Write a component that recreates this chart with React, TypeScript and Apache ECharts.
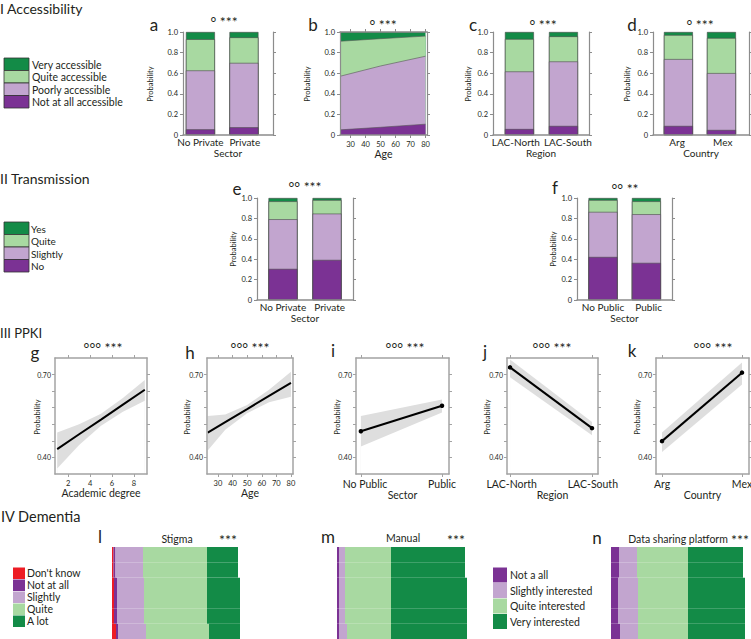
import React, { useEffect, useRef } from "react";
import * as echarts from "echarts";

const FONT = "Lato, 'Open Sans', sans-serif";
const INK = "#231f20";
const AXIS = "#8c8c8c";

const C_DARK = "#138b47";
const C_LIGHT = "#a8d9a1";
const C_LILAC = "#c2a5cf";
const C_PURPLE = "#7b3294";
const C_RED = "#ed1c24";

// ---------- I Accessibility ----------
const accessLegend = ["Very accessible", "Quite accessible", "Poorly accessible", "Not at all accessible"];
const aCats = ["No Private", "Private"];
const aNot = [0.055, 0.075];
const aPoor = [0.572, 0.625];
const aQuite = [0.303, 0.248];
const aVery = [0.07, 0.052];

const bAges = [23, 50, 80];
const bNot = [0.05, 0.075, 0.105];
const bPoor = [0.52, 0.595, 0.66];
const bQuite = [0.34, 0.265, 0.195];
const bVery = [0.09, 0.065, 0.04];
const bAgeTicks = [30, 40, 50, 60, 70, 80];

const cCats = ["LAC-North", "LAC-South"];
const cNot = [0.058, 0.088];
const cPoor = [0.559, 0.626];
const cQuite = [0.315, 0.244];
const cVery = [0.068, 0.042];

const dCats = ["Arg", "Mex"];
const dNot = [0.088, 0.049];
const dPoor = [0.649, 0.552];
const dQuite = [0.234, 0.341];
const dVery = [0.029, 0.058];

// ---------- II Transmission ----------
const transLegend = ["Yes", "Quite", "Slightly", "No"];
const eCats = ["No Private", "Private"];
const eNo = [0.305, 0.393];
const eSlightly = [0.487, 0.454];
const eQuite = [0.176, 0.133];
const eYes = [0.032, 0.02];
const fCats = ["No Public", "Public"];
const fNo = [0.422, 0.364];
const fSlightly = [0.442, 0.477];
const fQuite = [0.116, 0.127];
const fYes = [0.02, 0.032];

// ---------- III PPKI ----------
const ppkiTicks = [0.4, 0.46, 0.52, 0.58, 0.64, 0.7];
const ppkiLabels = [0.4, 0.7];
const gX = [1, 3, 5, 7, 9];
const gFit = [0.43, 0.484, 0.537, 0.591, 0.645];
const gLo = [0.36, 0.445, 0.515, 0.565, 0.605];
const gHi = [0.49, 0.52, 0.558, 0.615, 0.68];
const gTicks = [2, 4, 6, 8];
const hX = [23, 35, 50, 65, 80];
const hFit = [0.49, 0.528, 0.575, 0.623, 0.67];
const hLo = [0.425, 0.5, 0.56, 0.6, 0.62];
const hHi = [0.55, 0.555, 0.59, 0.645, 0.71];
const hTicks = [30, 40, 50, 60, 70, 80];
const iCats = ["No Public", "Public"];
const iFit = [0.495, 0.587];
const iLo = [0.44, 0.563];
const iHi = [0.55, 0.61];
const jCats = ["LAC-North", "LAC-South"];
const jFit = [0.726, 0.506];
const jLo = [0.69, 0.48];
const jHi = [0.755, 0.528];
const kCats = ["Arg", "Mex"];
const kFit = [0.459, 0.707];
const kLo = [0.42, 0.664];
const kHi = [0.49, 0.744];

// ---------- IV Dementia ----------
const rows = ["r1", "r2", "r3", "r4", "r5", "r6"];
const dementiaLegendL = ["Don't know", "Not at all", "Slightly", "Quite", "A lot"];
const lDontKnow = [1.5, 1.5, 2, 2, 2, 4];
const lNotAtAll = [2, 2, 3, 3, 3, 2];
const lSlightly = [27.5, 27.5, 27, 27, 27, 28];
const lQuite = [64, 64, 63, 63, 63, 63];
const lALot = [31, 31, 33, 33, 33, 31];
const interestLegend = ["Not a all", "Slightly interested", "Quite interested", "Very interested"];
const mNot = [2, 2, 2, 2, 2, 2];
const mSlightly = [6, 6, 6, 6, 6, 8];
const mQuite = [46, 46, 46, 46, 46, 44];
const mVery = [74, 74, 76, 76, 76, 76];
const nNot = [8, 8, 7, 7, 7, 9];
const nSlightly = [18, 18, 20, 20, 20, 18];
const nQuite = [51, 51, 50, 50, 50, 50];
const nVery = [55, 55, 57, 57, 57, 57];

type Acc = { grid: any[]; xAxis: any[]; yAxis: any[]; series: any[] };

const labelStyle = (size: number) => ({ fontSize: size, color: INK, fontFamily: FONT });

// running totals of stacked shares (bottom segment first)
function cumulate(stacks: number[][]) {
  const out: number[][] = [];
  stacks.forEach((vals, k) => out.push(vals.map((v, i) => (k === 0 ? v : out[k - 1][i] + v))));
  return out;
}

function addGrid(acc: Acc, box: number[]) {
  acc.grid.push({ left: box[0], top: box[1], width: box[2], height: box[3], containLabel: false, outerBoundsMode: "none" });
  return acc.grid.length - 1;
}

function stackYAxes(acc: Acc, gi: number) {
  const base = {
    gridIndex: gi, type: "value", min: 0, max: 1, interval: 0.2, z: 10,
    splitLine: { show: false },
    axisLine: { show: true, onZero: false, lineStyle: { color: AXIS, width: 1.2 } },
    axisTick: { show: true, length: 3, lineStyle: { color: AXIS, width: 1 } },
  };
  const yi = acc.yAxis.length;
  acc.yAxis.push({ ...base, position: "left", axisLabel: { ...labelStyle(7.5), margin: 5, formatter: (v: number) => (v === 0 ? "0" : v.toFixed(1)) } });
  acc.yAxis.push({ ...base, position: "right", axisLabel: { show: false } });
  return yi;
}

function barPanel(acc: Acc, box: number[], xmin: number, xmax: number, cats: string[], labelAt: number[], stacks: number[][], colors: string[], xName: string) {
  const gi = addGrid(acc, box);
  const xi = acc.xAxis.length;
  acc.xAxis.push({
    gridIndex: gi, type: "value", min: xmin, max: xmax, z: 10,
    name: xName, nameLocation: "middle", nameGap: 12,
    nameTextStyle: { ...labelStyle(10), verticalAlign: "top" },
    axisLine: { show: true, onZero: false, lineStyle: { color: AXIS, width: 1.5 } },
    axisTick: { show: false }, splitLine: { show: false },
    axisLabel: { ...labelStyle(10), customValues: labelAt, hideOverlap: false, margin: 2, formatter: (v: number) => (v < 0.5 ? cats[0] : cats[1]) },
  });
  const yi = stackYAxes(acc, gi);
  const cum = cumulate(stacks);
  for (let k = cum.length - 1; k >= 0; k--) {
    acc.series.push({
      type: "bar", xAxisIndex: xi, yAxisIndex: yi, barWidth: 29, barGap: "-100%",
      data: cum[k].map((v, i) => [i, v]),
      itemStyle: { color: colors[k], borderColor: "#4a4a4a", borderWidth: 0.6 }, silent: true,
    });
  }
}

function areaPanel(acc: Acc, box: number[], xmin: number, xmax: number, xs: number[], stacks: number[][], colors: string[], ticks: number[], xName: string) {
  const gi = addGrid(acc, box);
  const xi = acc.xAxis.length;
  const xBase = {
    gridIndex: gi, type: "value", min: xmin, max: xmax, z: 10, splitLine: { show: false },
    axisLine: { show: true, onZero: false, lineStyle: { color: AXIS, width: 1.5 } },
    axisTick: { show: true, length: 3, customValues: ticks, lineStyle: { color: AXIS, width: 1 } },
  };
  acc.xAxis.push({
    ...xBase, position: "bottom",
    name: xName, nameLocation: "middle", nameGap: 13,
    nameTextStyle: { ...labelStyle(10.5), verticalAlign: "top" },
    axisLabel: { ...labelStyle(7.5), customValues: ticks, margin: 5 },
  });
  acc.xAxis.push({ ...xBase, position: "top", axisLabel: { show: false } });
  const yi = stackYAxes(acc, gi);
  const cum = cumulate(stacks);
  for (let k = cum.length - 1; k >= 0; k--) {
    acc.series.push({
      type: "line", xAxisIndex: xi, yAxisIndex: yi, symbol: "none",
      data: cum[k].map((v, i) => [xs[i], v]),
      lineStyle: { color: "#555", width: 0.6 },
      areaStyle: { color: colors[k], opacity: 1, origin: "start" }, silent: true,
    });
  }
}

function ciPanel(acc: Acc, box: number[], xmin: number, xmax: number, xs: number[], fit: number[], lo: number[], hi: number[], ticks: number[], labelAt: number[], fmt: (v: number) => string, dots: boolean, xName: string) {
  const gi = addGrid(acc, box);
  const xi = acc.xAxis.length;
  const line = { show: true, onZero: false, lineStyle: { color: "#a3a3a3", width: 1.5 } };
  const tick = { show: true, length: 3, lineStyle: { color: "#a3a3a3", width: 1 } };
  const xBase = { gridIndex: gi, type: "value", min: xmin, max: xmax, z: 10, splitLine: { show: false }, axisLine: line, axisTick: { ...tick, customValues: ticks } };
  acc.xAxis.push({
    ...xBase, position: "bottom",
    name: xName, nameLocation: "middle", nameGap: 13,
    nameTextStyle: { ...labelStyle(10.5), verticalAlign: "top" },
    axisLabel: { ...labelStyle(dots ? 10.5 : 7.5), customValues: labelAt, hideOverlap: false, margin: dots ? 4 : 5, formatter: fmt },
  });
  acc.xAxis.push({ ...xBase, position: "top", axisLabel: { show: false } });
  const yi = acc.yAxis.length;
  const yBase = { gridIndex: gi, type: "value", min: 0.34, max: 0.76, z: 10, splitLine: { show: false }, axisLine: line, axisTick: { ...tick, customValues: ppkiTicks } };
  acc.yAxis.push({ ...yBase, position: "left", axisLabel: { ...labelStyle(7), customValues: ppkiLabels, margin: 4, formatter: (v: number) => v.toFixed(2) } });
  acc.yAxis.push({ ...yBase, position: "right", axisLabel: { show: false } });
  // confidence band: grey up to the upper bound, white up to the lower bound
  acc.series.push({
    type: "line", xAxisIndex: xi, yAxisIndex: yi, symbol: "none",
    data: hi.map((v, i) => [xs[i], v]), lineStyle: { opacity: 0 },
    areaStyle: { color: "#dedede", opacity: 1, origin: "start" }, silent: true,
  });
  acc.series.push({
    type: "line", xAxisIndex: xi, yAxisIndex: yi, symbol: "none",
    data: lo.map((v, i) => [xs[i], v]), lineStyle: { opacity: 0 },
    areaStyle: { color: "#ffffff", opacity: 1, origin: "start" }, silent: true,
  });
  acc.series.push({
    type: "line", xAxisIndex: xi, yAxisIndex: yi,
    symbol: dots ? "circle" : "none", symbolSize: 4.5, showSymbol: dots,
    data: fit.map((v, i) => [xs[i], v]),
    lineStyle: { color: "#000", width: 2 }, itemStyle: { color: "#000" }, silent: true,
  });
}

function rowPanel(acc: Acc, box: number[], max: number, stacks: number[][], colors: string[]) {
  const gi = addGrid(acc, box);
  const xi = acc.xAxis.length;
  acc.xAxis.push({ gridIndex: gi, type: "value", min: 0, max, show: false, splitLine: { show: false } });
  const yi = acc.yAxis.length;
  acc.yAxis.push({ gridIndex: gi, type: "category", data: rows, inverse: true, show: false });
  stacks.forEach((vals, k) =>
    acc.series.push({
      type: "bar", xAxisIndex: xi, yAxisIndex: yi, stack: "r" + gi, barCategoryGap: "0%",
      data: vals, itemStyle: { color: colors[k] }, silent: true,
    })
  );
}

function txt(x: number, y: number, text: string, size: number, align = "left", rotation = 0) {
  return {
    type: "text", x, y, rotation, silent: true,
    style: { text, fill: INK, fontSize: size, fontFamily: FONT, align, verticalAlign: "middle", textAlign: align, textVerticalAlign: "middle" },
  };
}
function box(x: number, y: number, w: number, h: number, fill: string, stroke?: string) {
  return { type: "rect", silent: true, shape: { x, y, width: w, height: h }, style: { fill, stroke: stroke ?? "none", lineWidth: stroke ? 0.8 : 0 } };
}

function buildOption() {
  const acc: Acc = { grid: [], xAxis: [], yAxis: [], series: [] };
  const accessColors = [C_PURPLE, C_LILAC, C_LIGHT, C_DARK];

  barPanel(acc, [183, 32, 90, 103], -0.4, 1.667, aCats, [0, 1.02], [aNot, aPoor, aQuite, aVery], accessColors, "Sector");
  areaPanel(acc, [340, 32, 87, 103], 23, 81, bAges, [bNot, bPoor, bQuite, bVery], accessColors, bAgeTicks, "Age");
  barPanel(acc, [493, 32, 96, 103], -0.6, 1.58, cCats, [-0.08, 1.1], [cNot, cPoor, cQuite, cVery], accessColors, "Region");
  barPanel(acc, [653, 32, 96, 103], -0.59, 1.64, dCats, [-0.03, 1.03], [dNot, dPoor, dQuite, dVery], accessColors, "Country");

  barPanel(acc, [257, 198, 96, 102], -0.59, 1.59, eCats, [0, 1.06], [eNo, eSlightly, eQuite, eYes], accessColors, "Sector");
  barPanel(acc, [577, 198, 95, 102], -0.6, 1.59, fCats, [0, 1.05], [fNo, fSlightly, fQuite, fYes], accessColors, "Sector");

  ciPanel(acc, [55, 358, 92, 116], 0.8, 9.2, gX, gFit, gLo, gHi, gTicks, gTicks, (v) => String(v), false, "Academic degree");
  ciPanel(acc, [207, 358, 86, 116], 22.5, 81.4, hX, hFit, hLo, hHi, hTicks, hTicks, (v) => String(v), false, "Age");
  ciPanel(acc, [356, 358, 93, 116], -0.06, 1.086, [0, 1], iFit, iLo, iHi, [0, 1], [0.05, 1], (v) => (v < 0.5 ? iCats[0] : iCats[1]), true, "Sector");
  ciPanel(acc, [507, 358, 91, 116], -0.037, 1.073, [0, 1], jFit, jLo, jHi, [0, 1], [0.02, 1.01], (v) => (v < 0.5 ? jCats[0] : jCats[1]), true, "Region");
  ciPanel(acc, [656, 358, 93, 116], -0.075, 1.0875, [0, 1], kFit, kLo, kHi, [0, 1], [0, 1], (v) => (v < 0.5 ? kCats[0] : kCats[1]), true, "Country");

  rowPanel(acc, [112, 547, 150, 92], 150, [lDontKnow, lNotAtAll, lSlightly, lQuite, lALot], [C_RED, C_PURPLE, C_LILAC, C_LIGHT, C_DARK]);
  rowPanel(acc, [337, 547, 150, 92], 150, [mNot, mSlightly, mQuite, mVery], [C_PURPLE, C_LILAC, C_LIGHT, C_DARK]);
  rowPanel(acc, [611, 547, 150, 92], 150, [nNot, nSlightly, nQuite, nVery], [C_PURPLE, C_LILAC, C_LIGHT, C_DARK]);

  const g: any[] = [];
  // section titles
  g.push(txt(0, 8, "I Accessibility", 14));
  g.push(txt(0, 178, "II Transmission", 14));
  g.push(txt(0, 333, "III PPKI", 13));
  g.push(txt(1, 516, "IV Dementia", 14.5));

  // legend I
  const legI = [C_DARK, C_LIGHT, C_LILAC, C_PURPLE];
  accessLegend.forEach((t, k) => {
    const y = 58 + k * 12.5;
    g.push(box(4, y, 25, 12.5, legI[k], "#333"));
    g.push(txt(32, y + 6.5, t, 10.5));
  });
  // legend II
  transLegend.forEach((t, k) => {
    const y = 222 + k * 12.5;
    g.push(box(4, y, 25, 12.5, legI[k], "#333"));
    g.push(txt(31, y + 6.5, t, 10));
  });
  // legend IV left
  const legL = [C_RED, C_PURPLE, C_LILAC, C_LIGHT, C_DARK];
  dementiaLegendL.forEach((t, k) => {
    const c = 573 + k * 12;
    g.push(box(13, c - 5.5, 12, 11.5, legL[k]));
    g.push(txt(27, c, t, 10.5));
  });
  // legend IV right
  const legR = [C_PURPLE, C_LILAC, C_LIGHT, C_DARK];
  interestLegend.forEach((t, k) => {
    const c = 575 + k * 15.5;
    g.push(box(493, c - 7.5, 14, 15, legR[k]));
    g.push(txt(510, c, t, 10.5));
  });

  // panel letters
  const letters: [string, number, number][] = [
    ["a", 154, 24], ["b", 313, 24], ["c", 473, 24], ["d", 632, 24],
    ["e", 237, 188], ["f", 555, 187],
    ["g", 35, 352], ["h", 190, 352], ["i", 333, 350], ["j", 485, 351], ["k", 632, 350],
    ["l", 100, 536], ["m", 328, 536], ["n", 597, 537],
  ];
  letters.forEach(([t, x, y]) => g.push(txt(x, y, t, 17, "center")));

  // significance marks
  const sig: [string, number, number][] = [
    ["° ***", 224, 21], ["° ***", 383, 24], ["° ***", 543, 24], ["° ***", 700, 24],
    ["°° ***", 305, 186], ["°° **", 625, 188],
    ["°°° ***", 103, 347], ["°°° ***", 250, 347], ["°°° ***", 405, 347], ["°°° ***", 552, 347], ["°°° ***", 713, 347],
  ];
  sig.forEach(([t, x, y]) => g.push(txt(x, y, t, 14, "center")));

  // Probability labels
  const prob: [number, number][] = [
    [150, 84], [307, 84], [468, 84], [627, 84],
    [233, 249], [553, 249],
    [37, 417], [187, 417], [337, 417], [487, 417], [637, 417],
  ];
  prob.forEach(([x, y]) => g.push(txt(x, y, "Probability", 7.5, "center", Math.PI / 2)));

  // dementia panel titles
  g.push(txt(177, 539, "Stigma", 10.5, "center"));
  g.push(txt(228, 539, "***", 14, "center"));
  g.push(txt(403, 538, "Manual", 10.5, "center"));
  g.push(txt(456, 539, "***", 14, "center"));
  g.push(txt(678, 539, "Data sharing platform", 10.5, "center"));
  g.push(txt(740, 539, "***", 14, "center"));

  return {
    animation: false,
    backgroundColor: "#ffffff",
    textStyle: { fontFamily: FONT },
    grid: acc.grid,
    xAxis: acc.xAxis,
    yAxis: acc.yAxis,
    series: acc.series,
    graphic: g,
  };
}

export default function App() {
  const ref = useRef<HTMLDivElement>(null);
  useEffect(() => {
    if (!ref.current) return;
    const chart = echarts.init(ref.current, undefined, { renderer: "svg" });
    chart.setOption(buildOption() as any);
    return () => chart.dispose();
  }, []);
  return <div ref={ref} style={{ position: "fixed", left: 0, top: 0, width: 751, height: 639, background: "#fff" }} />;
}
